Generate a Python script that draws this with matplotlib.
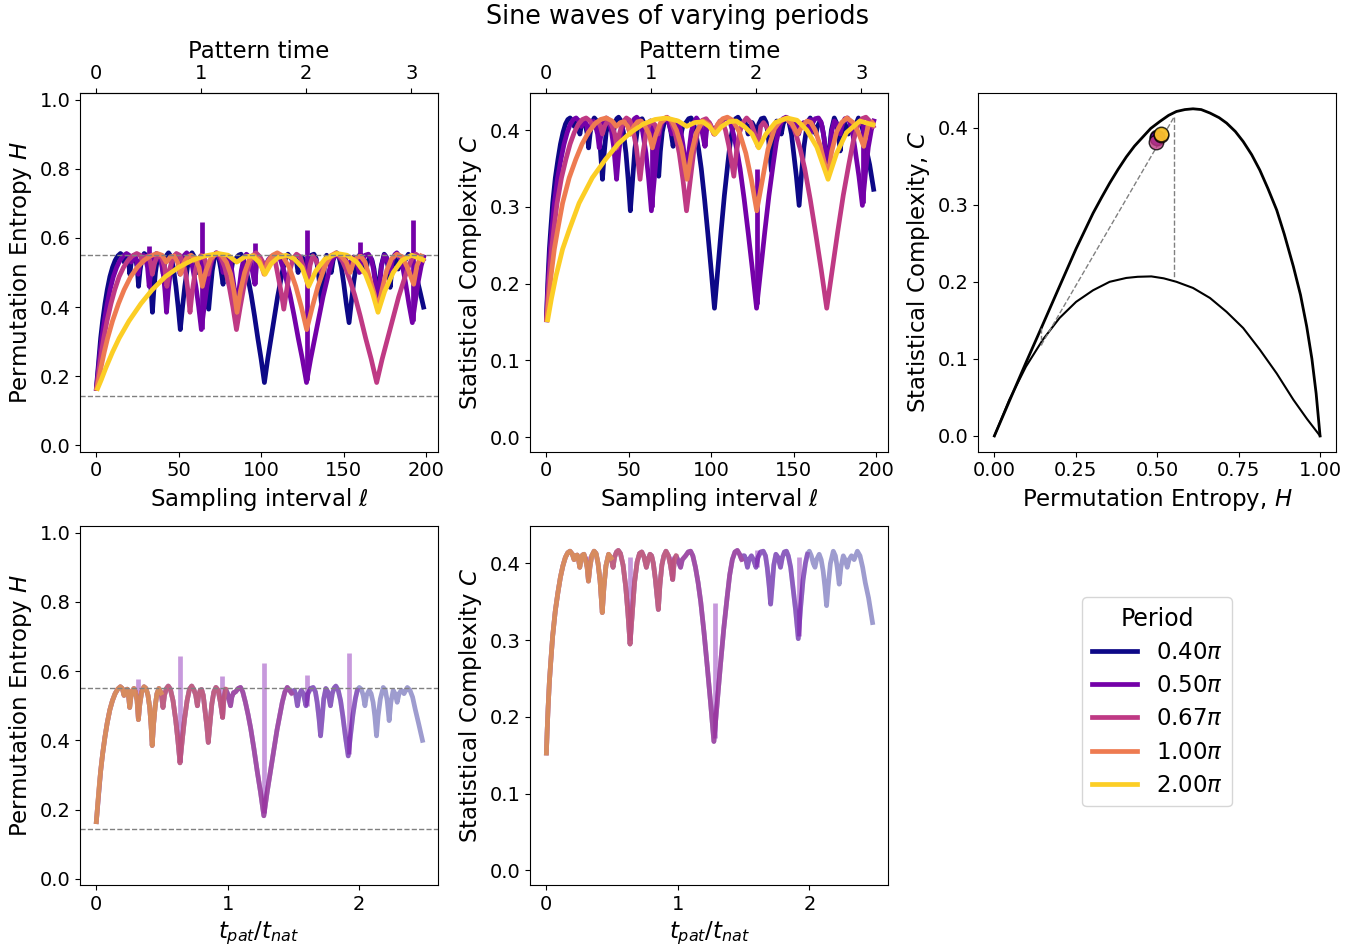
import numpy as np
import matplotlib
matplotlib.use("Agg")
import matplotlib.pyplot as plt

# ---------------- data ----------------
periods = [0.4, 0.5, 2 / 3, 1.0, 2.0]            # in units of pi
period_labels = [r"0.40$\pi$", r"0.50$\pi$", r"0.67$\pi$", r"1.00$\pi$", r"2.00$\pi$"]
l_max = 198

# master curve of permutation entropy vs t_pat/t_nat
x_H = [0.0025, 0.008, 0.015, 0.025, 0.035, 0.05, 0.068, 0.085, 0.105, 0.125, 0.145, 0.165,
       0.185, 0.2, 0.213, 0.225, 0.237, 0.247, 0.256, 0.265, 0.275, 0.288, 0.3, 0.312,
       0.322, 0.333, 0.347, 0.365, 0.38, 0.395, 0.408, 0.418, 0.427, 0.437, 0.45, 0.463,
       0.478, 0.495, 0.509, 0.52, 0.535, 0.549, 0.565, 0.585, 0.605, 0.622, 0.638, 0.655,
       0.672, 0.692, 0.71, 0.727, 0.745, 0.758, 0.77, 0.78, 0.792, 0.802, 0.815, 0.83,
       0.842, 0.853, 0.865, 0.88, 0.895, 0.911, 0.928, 0.945, 0.962, 0.972, 0.985, 1.0,
       1.012, 1.022, 1.032, 1.045, 1.06, 1.08, 1.098, 1.115, 1.135, 1.155, 1.175, 1.2,
       1.225, 1.25, 1.275, 1.30, 1.325, 1.35, 1.375, 1.395, 1.415, 1.435, 1.453, 1.47,
       1.486, 1.497, 1.507, 1.518, 1.53, 1.542, 1.56, 1.575, 1.595, 1.61, 1.63, 1.65,
       1.667, 1.68, 1.695, 1.706, 1.717, 1.73, 1.746, 1.762, 1.781, 1.795, 1.81, 1.822,
       1.84, 1.858, 1.875, 1.895, 1.916, 1.935, 1.952, 1.97, 1.985, 2.0, 2.015, 2.03,
       2.043, 2.055, 2.075, 2.09, 2.105, 2.118, 2.131, 2.143, 2.16, 2.182, 2.198, 2.212,
       2.227, 2.24, 2.258, 2.272, 2.288, 2.302, 2.32, 2.34, 2.365, 2.385, 2.405, 2.425,
       2.45, 2.48]
H_vals = [0.165, 0.19, 0.225, 0.27, 0.31, 0.36, 0.41, 0.45, 0.488, 0.515, 0.535, 0.548,
          0.555, 0.55, 0.53, 0.545, 0.548, 0.53, 0.495, 0.525, 0.543, 0.55, 0.54, 0.515,
          0.46, 0.505, 0.54, 0.555, 0.55, 0.53, 0.495, 0.445, 0.385, 0.445, 0.50, 0.535,
          0.55, 0.537, 0.495, 0.53, 0.55, 0.557, 0.548, 0.515, 0.46, 0.40, 0.335, 0.40,
          0.46, 0.515, 0.548, 0.557, 0.545, 0.53, 0.50, 0.53, 0.545, 0.547, 0.53, 0.48,
          0.44, 0.394, 0.445, 0.505, 0.54, 0.553, 0.545, 0.51, 0.466, 0.52, 0.548, 0.535,
          0.515, 0.50, 0.525, 0.538, 0.54, 0.55, 0.553, 0.54, 0.51, 0.475, 0.435, 0.375,
          0.31, 0.25, 0.182, 0.25, 0.31, 0.37, 0.43, 0.47, 0.51, 0.54, 0.553, 0.545,
          0.536, 0.543, 0.545, 0.53, 0.50, 0.53, 0.545, 0.535, 0.50, 0.535, 0.55, 0.553,
          0.54, 0.51, 0.46, 0.413, 0.46, 0.52, 0.55, 0.54, 0.50, 0.535, 0.552, 0.557,
          0.545, 0.515, 0.47, 0.41, 0.355, 0.42, 0.475, 0.52, 0.545, 0.553, 0.548, 0.53,
          0.50, 0.53, 0.545, 0.535, 0.51, 0.47, 0.413, 0.47, 0.52, 0.553, 0.545, 0.515,
          0.457, 0.51, 0.545, 0.535, 0.51, 0.535, 0.545, 0.535, 0.553, 0.545, 0.525, 0.49,
          0.45, 0.40]

# master curve of statistical complexity vs t_pat/t_nat
x_C = [0.0025, 0.008, 0.015, 0.025, 0.035, 0.05, 0.07, 0.09, 0.109, 0.128, 0.147, 0.165,
       0.182, 0.2, 0.213, 0.225, 0.237, 0.247, 0.256, 0.266, 0.277, 0.288, 0.3, 0.312,
       0.322, 0.333, 0.347, 0.365, 0.38, 0.395, 0.41, 0.427, 0.44, 0.455, 0.475, 0.495,
       0.509, 0.52, 0.535, 0.549, 0.565, 0.585, 0.605, 0.622, 0.638, 0.655, 0.672, 0.692,
       0.71, 0.727, 0.745, 0.762, 0.775, 0.79, 0.802, 0.815, 0.83, 0.853, 0.865, 0.88,
       0.895, 0.911, 0.93, 0.945, 0.962, 0.975, 0.988, 1.0, 1.022, 1.035, 1.06, 1.08,
       1.098, 1.115, 1.135, 1.155, 1.175, 1.2, 1.225, 1.25, 1.275, 1.30, 1.325, 1.35,
       1.375, 1.395, 1.415, 1.435, 1.453, 1.47, 1.486, 1.497, 1.507, 1.518, 1.53, 1.542,
       1.56, 1.575, 1.595, 1.61, 1.63, 1.65, 1.667, 1.68, 1.695, 1.706, 1.717, 1.73,
       1.746, 1.762, 1.781, 1.795, 1.81, 1.826, 1.84, 1.858, 1.875, 1.895, 1.916, 1.935,
       1.952, 1.97, 1.985, 2.0, 2.015, 2.03, 2.043, 2.055, 2.075, 2.09, 2.105, 2.118,
       2.131, 2.143, 2.16, 2.182, 2.198, 2.212, 2.227, 2.24, 2.258, 2.272, 2.288, 2.302,
       2.32, 2.34, 2.365, 2.385, 2.405, 2.425, 2.45, 2.48]
C_vals = [0.153, 0.18, 0.21, 0.245, 0.27, 0.305, 0.338, 0.362, 0.382, 0.397, 0.408, 0.414,
          0.416, 0.412, 0.405, 0.41, 0.411, 0.405, 0.395, 0.405, 0.411, 0.412, 0.405, 0.395,
          0.377, 0.395, 0.41, 0.416, 0.413, 0.40, 0.378, 0.336, 0.37, 0.397, 0.412, 0.407,
          0.395, 0.408, 0.415, 0.417, 0.413, 0.398, 0.37, 0.335, 0.295, 0.335, 0.375, 0.402,
          0.413, 0.415, 0.408, 0.395, 0.405, 0.412, 0.41, 0.40, 0.38, 0.34, 0.372, 0.398,
          0.41, 0.416, 0.41, 0.398, 0.379, 0.405, 0.41, 0.405, 0.395, 0.405, 0.41, 0.415,
          0.416, 0.41, 0.395, 0.375, 0.35, 0.31, 0.265, 0.218, 0.168, 0.218, 0.268, 0.315,
          0.355, 0.385, 0.405, 0.415, 0.417, 0.412, 0.405, 0.41, 0.41, 0.405, 0.395, 0.405,
          0.41, 0.405, 0.395, 0.408, 0.415, 0.416, 0.41, 0.395, 0.37, 0.347, 0.37, 0.398,
          0.412, 0.408, 0.395, 0.408, 0.415, 0.416, 0.41, 0.395, 0.37, 0.34, 0.302, 0.345,
          0.378, 0.40, 0.412, 0.416, 0.41, 0.40, 0.395, 0.405, 0.412, 0.405, 0.39, 0.37,
          0.345, 0.37, 0.40, 0.416, 0.41, 0.395, 0.373, 0.395, 0.41, 0.405, 0.395, 0.405,
          0.41, 0.405, 0.416, 0.41, 0.395, 0.375, 0.355, 0.323]

# single-sample spikes of the 0.50pi series
spike_l = [32, 64, 96, 128, 160, 192]
spike_H_base = [0.462, 0.337, 0.466, 0.19, 0.50, 0.361]
spike_H_top = [0.578, 0.645, 0.586, 0.624, 0.588, 0.652]
spike_C_base = [0.377, 0.300, 0.379, 0.173, 0.395, 0.305]
spike_C_top = [0.41, 0.408, 0.41, 0.349, 0.417, 0.408]

H_upper, H_lower = 0.550, 0.144

# complexity-entropy plane bounds
Hmax_curve = [0.0, 0.056, 0.1, 0.144, 0.2, 0.251, 0.303, 0.33, 0.354, 0.38, 0.405, 0.43,
              0.456, 0.48, 0.508, 0.535, 0.559, 0.585, 0.61, 0.635, 0.662, 0.69, 0.713,
              0.74, 0.764, 0.79, 0.815, 0.84, 0.867, 0.89, 0.918, 0.94, 0.959, 0.975,
              0.988, 1.0]
Cmax_curve = [0.0, 0.055, 0.098, 0.14, 0.194, 0.243, 0.289, 0.31, 0.328, 0.346, 0.362,
              0.376, 0.388, 0.399, 0.408, 0.416, 0.421, 0.4235, 0.4245, 0.4235, 0.419,
              0.413, 0.406, 0.395, 0.382, 0.365, 0.345, 0.321, 0.293, 0.262, 0.22, 0.183,
              0.142, 0.1, 0.055, 0.0]
Hmin_curve = [0.0, 0.046, 0.097, 0.149, 0.2, 0.251, 0.303, 0.354, 0.405, 0.44, 0.482,
              0.52, 0.559, 0.61, 0.662, 0.713, 0.764, 0.815, 0.867, 0.918, 0.96, 1.0]
Cmin_curve = [0.0, 0.047, 0.09, 0.125, 0.153, 0.174, 0.189, 0.2, 0.205, 0.2065, 0.207,
              0.2045, 0.2, 0.192, 0.179, 0.161, 0.14, 0.112, 0.081, 0.047, 0.022, 0.0]
guide_H = [0.144, 0.144, 0.552, 0.552]
guide_C = [0.14, 0.118, 0.414, 0.204]

mean_H = [0.500, 0.499, 0.497, 0.511, 0.513]
mean_C = [0.388, 0.386, 0.382, 0.390, 0.392]

# ---------------- figure ----------------
plt.rcParams["font.family"] = ["DejaVu Sans"]
plt.rcParams["xtick.labelsize"] = 14
plt.rcParams["ytick.labelsize"] = 14
LAB = 16.5

colors = plt.cm.plasma(np.linspace(0, 0.9, len(periods)))
fig = plt.figure(figsize=(13.56, 9.47), dpi=100)

W, Hh = 0.2642, 0.3792
ax_H = fig.add_axes([0.0590, 0.5230, W, Hh])
ax_C = fig.add_axes([0.3909, 0.5230, W, Hh])
ax_CH = fig.add_axes([0.7213, 0.5230, W, Hh])
ax_Hs = fig.add_axes([0.0590, 0.0655, W, Hh])
ax_Cs = fig.add_axes([0.3909, 0.0655, W, Hh])
ax_leg = fig.add_axes([0.7213, 0.0655, W, Hh])
ax_leg.axis("off")

xH = np.array(x_H)
xC = np.array(x_C)
Hv = np.array(H_vals)
Cv = np.array(C_vals)
lw = 3.4
lines = []
for i, (p, lab, col) in enumerate(zip(periods, period_labels, colors)):
    scale = 200 * p                      # l = x * 200 * P/pi
    mH = xH * scale <= l_max + 0.5
    mC = xC * scale <= l_max + 0.5
    ln, = ax_H.plot(xH[mH] * scale, Hv[mH], color=col, lw=lw, label=lab)
    ax_C.plot(xC[mC] * scale, Cv[mC], color=col, lw=lw)
    ax_Hs.plot(xH[mH], Hv[mH], color=col, lw=lw, alpha=0.4)
    ax_Cs.plot(xC[mC], Cv[mC], color=col, lw=lw, alpha=0.4)
    lines.append(ln)
    if i == 1:
        for l, b, t, cb, ct in zip(spike_l, spike_H_base, spike_H_top, spike_C_base, spike_C_top):
            ax_H.plot([l, l], [b, t], color=col, lw=lw, solid_capstyle="butt")
            ax_C.plot([l, l], [cb, ct], color=col, lw=lw, solid_capstyle="butt")
            ax_Hs.plot([l / scale, l / scale], [b, t], color=col, lw=lw, alpha=0.4,
                       solid_capstyle="butt")
            ax_Cs.plot([l / scale, l / scale], [cb, ct], color=col, lw=lw, alpha=0.4,
                       solid_capstyle="butt")

for ax in (ax_H, ax_Hs):
    ax.axhline(H_upper, color="grey", ls="--", lw=1)
    ax.axhline(H_lower, color="grey", ls="--", lw=1)
    ax.set_ylim(-0.018, 1.02)
    ax.set_yticks([0.0, 0.2, 0.4, 0.6, 0.8, 1.0])
    ax.set_ylabel(r"Permutation Entropy $H$", fontsize=LAB)
for ax in (ax_C, ax_Cs):
    ax.set_ylim(-0.019, 0.449)
    ax.set_yticks([0.0, 0.1, 0.2, 0.3, 0.4])
    ax.set_ylabel(r"Statistical Complexity $C$", fontsize=LAB)

for ax in (ax_H, ax_C):
    ax.set_xlim(-9.7, 207.3)
    ax.set_xticks([0, 50, 100, 150, 200])
    ax.set_xlabel(r"Sampling interval $\ell$", fontsize=LAB)
    sec = ax.secondary_xaxis("top", functions=(lambda l: l * np.pi / 200,
                                               lambda t: t * 200 / np.pi))
    sec.set_xticks([0, 1, 2, 3])
    sec.set_xlabel("Pattern time", fontsize=LAB)

for ax in (ax_Hs, ax_Cs):
    ax.set_xlim(-0.1215, 2.6)
    ax.set_xticks([0, 1, 2])
    ax.set_xlabel(r"$t_{pat}/t_{nat}$", fontsize=LAB)

# complexity-entropy plane
ax_CH.plot(Hmax_curve, Cmax_curve, color="k", lw=2.0)
ax_CH.plot(Hmin_curve, Cmin_curve, color="k", lw=1.5)
ax_CH.plot(guide_H[:2], guide_C[:2], color="grey", ls="--", lw=1)
ax_CH.plot([guide_H[1], guide_H[2]], [guide_C[1], guide_C[2]], color="grey", ls="--", lw=1)
ax_CH.plot(guide_H[2:], guide_C[2:], color="grey", ls="--", lw=1)
for h, c, col in zip(mean_H, mean_C, colors):
    ax_CH.scatter([h], [c], s=110, color=col, edgecolors="k", linewidths=1, alpha=0.8, zorder=5)
ax_CH.set_xlim(-0.05, 1.05)
ax_CH.set_ylim(-0.0205, 0.4455)
ax_CH.set_xticks([0.0, 0.25, 0.5, 0.75, 1.0])
ax_CH.set_yticks([0.0, 0.1, 0.2, 0.3, 0.4])
ax_CH.set_xlabel(r"Permutation Entropy, $H$", fontsize=LAB)
ax_CH.set_ylabel(r"Statistical Complexity, $C$", fontsize=LAB)

ax_leg.legend(handles=lines, title="Period", loc="center", fontsize=16.5, title_fontsize=17,
              labelspacing=0.45, bbox_to_anchor=(0.50, 0.51))

fig.suptitle("Sine waves of varying periods", fontsize=18.4, y=0.996)
fig.savefig("out.png", dpi=100)
